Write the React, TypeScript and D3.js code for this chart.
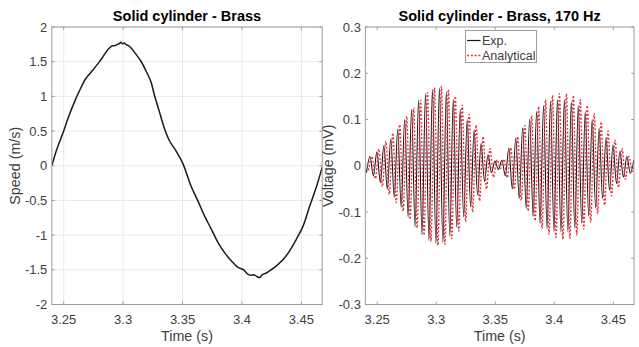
import React from 'react';
import * as d3 from 'd3';

const W = 639;
const H = 347;

// ---- Left panel: speed of the solid brass cylinder ----
const speedTime = [
  3.24, 3.2443, 3.25, 3.2542, 3.2598, 3.2641, 3.2683, 3.274, 3.2797, 3.283, 3.2853, 3.288, 3.2909, 3.293,
  3.2952, 3.2968, 3.298, 3.2995, 3.301, 3.3022, 3.3045, 3.3065, 3.3107, 3.3149, 3.3192, 3.3234, 3.3263,
  3.3305, 3.3347, 3.339, 3.3446, 3.3503, 3.3573, 3.363, 3.3687, 3.3744, 3.38, 3.3857, 3.3915, 3.3971,
  3.4014, 3.404, 3.4056, 3.408, 3.41, 3.4128, 3.415, 3.4171, 3.42, 3.4228, 3.4285, 3.4342, 3.44, 3.4457,
  3.4514, 3.457, 3.4627, 3.4675,
];
const speedValue = [
  0.0, 0.24, 0.5, 0.71, 0.95, 1.11, 1.25, 1.37, 1.49, 1.57, 1.63, 1.69, 1.73, 1.73,
  1.75, 1.76, 1.78, 1.76, 1.77, 1.75, 1.73, 1.7, 1.61, 1.51, 1.37, 1.21, 1.02,
  0.78, 0.54, 0.36, 0.21, 0.03, -0.3, -0.51, -0.73, -0.92, -1.11, -1.26, -1.38, -1.47,
  -1.5, -1.55, -1.57, -1.58, -1.57, -1.6, -1.61, -1.57, -1.55, -1.52, -1.45, -1.36, -1.23, -1.06,
  -0.87, -0.58, -0.3, -0.02,
];
const speedTicksY = [-2, -1.5, -1, -0.5, 0, 0.5, 1, 1.5, 2];

// ---- Right panel: voltage, successive peaks of the 170 Hz signal ----
const expStart = 3.2409;
const anaStart = 3.2426;
const peakStep = 0.002941; // half period of 170 Hz
const expVoltage = [
  -0.015, 0.02, -0.022, 0.03, -0.036, 0.043, -0.05, 0.058, -0.068, 0.079, -0.09, 0.1, -0.111, 0.122,
  -0.132, 0.142, -0.15, 0.156, -0.161, 0.165, -0.168, 0.168, -0.166, 0.16, -0.152, 0.143, -0.133, 0.122,
  -0.111, 0.1, -0.089, 0.077, -0.063, 0.048, -0.034, 0.024, -0.015, 0.01, -0.008, 0.012, -0.022, 0.038,
  -0.05, 0.06, -0.071, 0.082, -0.092, 0.101, -0.11, 0.118, -0.125, 0.131, -0.136, 0.14, -0.142, 0.143,
  -0.143, 0.143, -0.142, 0.139, -0.135, 0.13, -0.124, 0.117, -0.109, 0.1, -0.091, 0.081, -0.071, 0.061,
  -0.053, 0.045, -0.038, 0.031, -0.025, 0.02, -0.016, 0.012,
];
const anaVoltage = [
  -0.01, 0.02, -0.028, 0.036, -0.045, 0.053, -0.062, 0.071, -0.08, 0.089, -0.098, 0.107, -0.116, 0.125,
  -0.134, 0.142, -0.15, 0.158, -0.164, 0.169, -0.172, 0.172, -0.17, 0.165, -0.158, 0.15, -0.141, 0.131,
  -0.121, 0.111, -0.1, 0.088, -0.076, 0.063, -0.05, 0.037, -0.025, 0.013, -0.006, 0.014, -0.026, 0.039,
  -0.051, 0.063, -0.075, 0.087, -0.098, 0.109, -0.119, 0.128, -0.136, 0.143, -0.148, 0.152, -0.155, 0.156,
  -0.159, 0.156, -0.157, 0.152, -0.15, 0.143, -0.137, 0.13, -0.122, 0.113, -0.104, 0.095, -0.085, 0.075,
  -0.065, 0.056, -0.047, 0.038, -0.029, 0.02, -0.012, 0.006,
];
const voltTicksY = [-0.3, -0.2, -0.1, 0, 0.1, 0.2, 0.3];

const timeTicks = [3.25, 3.3, 3.35, 3.4, 3.45];
const timeDomain: [number, number] = [3.24, 3.4675];

const legendLabels = ['Exp.', 'Analytical'];
const titles = ['Solid cylinder - Brass', 'Solid cylinder - Brass, 170 Hz'];
const yLabels = ['Speed (m/s)', 'Voltage (mV)'];
const xLabel = 'Time (s)';

const FONT = '"Liberation Sans", Arial, Helvetica, sans-serif';
const AXIS = '#9c9c9c';
const TICKTXT = '#404040';
const GRID = '#e8e8e8';
const RED = '#e8303a';

const TOP = 27;
const BOTTOM = 304.5;

type PanelProps = {
  id: string;
  x0: number;
  x1: number;
  yDomain: [number, number];
  yTicks: number[];
  grid: boolean;
  title: string;
  yLabel: string;
  yLabelX: number;
  children: (x: d3.ScaleLinear<number, number>, y: d3.ScaleLinear<number, number>) => React.ReactNode;
};

function Panel({ id, x0, x1, yDomain, yTicks, grid, title, yLabel, yLabelX, children }: PanelProps) {
  const x = d3.scaleLinear().domain(timeDomain).range([x0, x1]);
  const y = d3.scaleLinear().domain(yDomain).range([BOTTOM, TOP]);
  const tl = 2.8;
  return (
    <g>
      <defs>
        <clipPath id={id}>
          <rect x={x0} y={TOP} width={x1 - x0} height={BOTTOM - TOP} />
        </clipPath>
      </defs>
      <rect x={x0} y={TOP} width={x1 - x0} height={BOTTOM - TOP} fill="#fff" />
      {grid &&
        timeTicks.map((t) => (
          <line key={'gx' + t} x1={x(t)} x2={x(t)} y1={TOP} y2={BOTTOM} stroke={GRID} strokeWidth={1} />
        ))}
      {grid &&
        yTicks.map((v) => (
          <line key={'gy' + v} x1={x0} x2={x1} y1={y(v)} y2={y(v)} stroke={GRID} strokeWidth={1} />
        ))}
      <g clipPath={`url(#${id})`}>{children(x, y)}</g>
      <rect x={x0} y={TOP} width={x1 - x0} height={BOTTOM - TOP} fill="none" stroke={AXIS} strokeWidth={1} />
      {timeTicks.map((t) => (
        <g key={'tx' + t}>
          <line x1={x(t)} x2={x(t)} y1={BOTTOM} y2={BOTTOM - tl} stroke={AXIS} />
          <line x1={x(t)} x2={x(t)} y1={TOP} y2={TOP + tl} stroke={AXIS} />
          <text x={x(t)} y={BOTTOM + 19.5} textAnchor="middle" fontSize={13} fill={TICKTXT} fontFamily={FONT}>
            {String(t)}
          </text>
        </g>
      ))}
      {yTicks.map((v) => (
        <g key={'ty' + v}>
          <line x1={x0} x2={x0 + tl} y1={y(v)} y2={y(v)} stroke={AXIS} />
          <line x1={x1} x2={x1 - tl} y1={y(v)} y2={y(v)} stroke={AXIS} />
          <text x={x0 - 4.5} y={y(v) + 4.6} textAnchor="end" fontSize={13} fill={TICKTXT} fontFamily={FONT}>
            {String(v)}
          </text>
        </g>
      ))}
      <text
        x={(x0 + x1) / 2}
        y={21}
        textAnchor="middle"
        fontSize={14.5}
        fontWeight="bold"
        fill="#000"
        fontFamily={FONT}
      >
        {title}
      </text>
      <text x={(x0 + x1) / 2} y={340.5} textAnchor="middle" fontSize={14.3} fill={TICKTXT} fontFamily={FONT}>
        {xLabel}
      </text>
      <text
        transform={`translate(${yLabelX},${(TOP + BOTTOM) / 2}) rotate(-90)`}
        textAnchor="middle"
        fontSize={14.3}
        fill={TICKTXT}
        fontFamily={FONT}
      >
        {yLabel}
      </text>
    </g>
  );
}

export default function App() {
  const speedPts = speedTime.map((t, i) => [t, speedValue[i]] as [number, number]);
  const expPts = expVoltage.map((v, i) => [expStart + i * peakStep, v] as [number, number]);
  const anaPts = anaVoltage.map((v, i) => [anaStart + i * peakStep, v] as [number, number]);

  return (
    <svg
      width={W}
      height={H}
      viewBox={`0 0 ${W} ${H}`}
      style={{ position: 'absolute', left: 0, top: 0, background: '#fff' }}
    >
      <rect width={W} height={H} fill="#fff" />
      <Panel
        id="clipL"
        x0={51.8}
        x1={322.2}
        yDomain={[-2, 2]}
        yTicks={speedTicksY}
        grid={true}
        title={titles[0]}
        yLabel={yLabels[0]}
        yLabelX={19.5}
      >
        {(x, y) => {
          const line = d3
            .line<[number, number]>()
            .x((d) => x(d[0]))
            .y((d) => y(d[1]))
            .curve(d3.curveCatmullRom);
          return <path d={line(speedPts) || ''} fill="none" stroke="#1a1a1a" strokeWidth={1.5} />;
        }}
      </Panel>
      <Panel
        id="clipR"
        x0={365.4}
        x1={634}
        yDomain={[-0.3, 0.3]}
        yTicks={voltTicksY}
        grid={false}
        title={titles[1]}
        yLabel={yLabels[1]}
        yLabelX={333}
      >
        {(x, y) => {
          const line = d3
            .line<[number, number]>()
            .x((d) => x(d[0]))
            .y((d) => y(d[1]))
            .curve(d3.curveMonotoneX);
          return (
            <g>
              <path d={line(expPts) || ''} fill="none" stroke="#151515" strokeWidth={1.05} />
              <path
                d={line(anaPts) || ''}
                fill="none"
                stroke={RED}
                strokeWidth={1.4}
                strokeDasharray="2 1.8"
              />
            </g>
          );
        }}
      </Panel>
      {/* legend */}
      <g fontFamily={FONT} fontSize={12.5} fill={TICKTXT}>
        <rect x={465.5} y={30.5} width={71} height={32} fill="#fff" stroke={AXIS} strokeWidth={1} />
        <line x1={467} x2={480.5} y1={40.5} y2={40.5} stroke="#151515" strokeWidth={1.2} />
        <text x={482} y={45}>
          {legendLabels[0]}
        </text>
        <line x1={467} x2={480.5} y1={55.5} y2={55.5} stroke={RED} strokeWidth={1.4} strokeDasharray="2 1.8" />
        <text x={482} y={60}>
          {legendLabels[1]}
        </text>
      </g>
    </svg>
  );
}
